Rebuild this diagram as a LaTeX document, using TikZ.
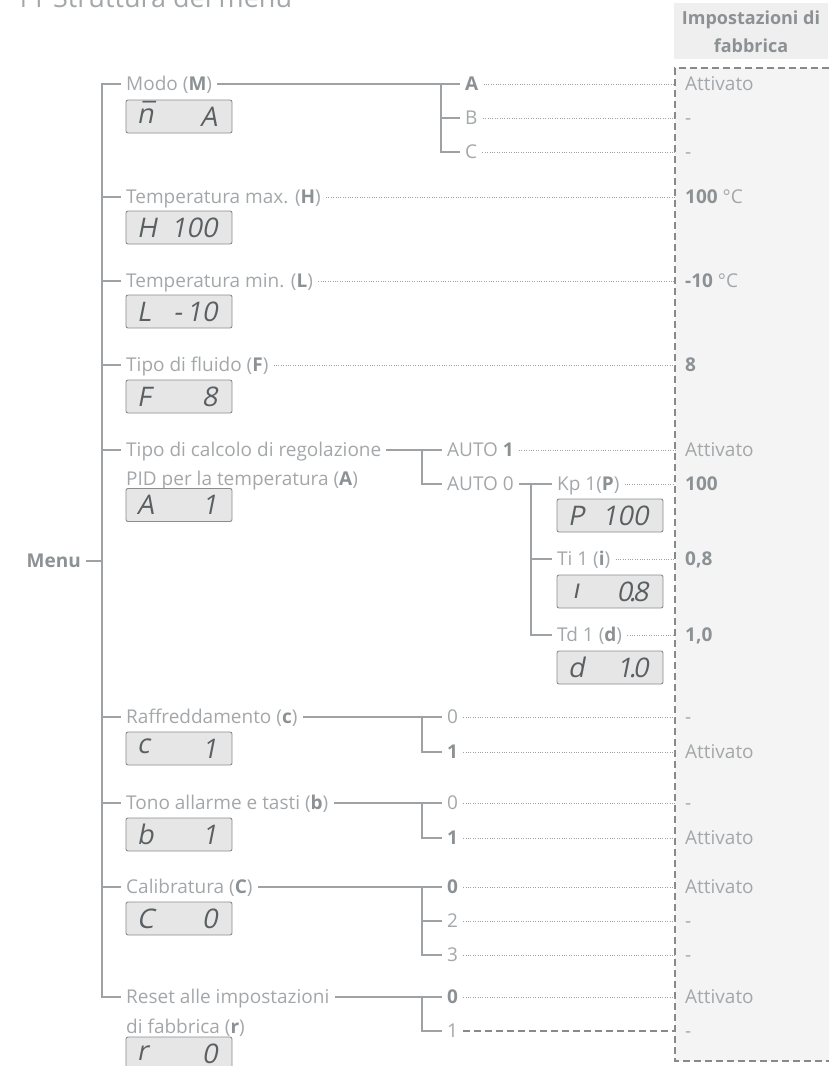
\documentclass[tikz,border=0pt]{standalone}
\usepackage{fontspec}
\setmainfont{Open Sans}
\newfontfamily\lcdfont{Open Sans}[FakeSlant=0.2]
\usepackage{tikz}
\usetikzlibrary{positioning,calc}
\definecolor{lnc}{HTML}{9EA2A4}
\definecolor{txc}{HTML}{A4A7A9}
\definecolor{bdc}{HTML}{8C9194}
\definecolor{facc}{HTML}{F4F4F4}
\definecolor{hdc}{HTML}{EFEFEF}
\definecolor{lcdf}{HTML}{E6E6E6}
\definecolor{lcdt}{HTML}{5A5F62}
\newcommand{\hl}[1]{\textcolor{bdc}{\textbf{#1}}}
\newcommand{\lcd}[5]{% name, x, y, left, right
  \node[lcd] (#1) at (#2,#3) {};
  \node[lcdc, anchor=west] at ([xshift=11pt]#1.west) {#4};
  \node[lcdc, anchor=east] at ([xshift=-15pt]#1.east) {#5};}

\begin{document}
\begin{tikzpicture}[
  x=1pt, y=-1pt,
  font=\fontsize{19}{22}\selectfont, text=txc,
  lbl/.style ={anchor=west, inner xsep=5pt, inner ysep=0pt, text height=14pt, text depth=1pt},
  val/.style ={lbl, inner xsep=10pt},
  ln/.style  ={draw=lnc, line width=1.2pt},
  dts/.style ={draw=lnc, line width=1pt, dash pattern=on 1pt off 1.4pt},
  dsh/.style ={draw=lnc!85!black, line width=2.4pt, dash pattern=on 7pt off 4pt},
  lcd/.style ={draw=black!45, fill=lcdf, rounded corners=2pt, line width=0.9pt,
               minimum width=106pt, minimum height=33pt, inner sep=0pt},
  lcdc/.style={font=\lcdfont\fontsize{27}{27}\selectfont, text=lcdt, inner sep=0pt}
]
\useasboundingbox (0,0) rectangle (828,1066);

% ---------- title and factory column ----------
\node[anchor=base west, inner sep=0pt, font=\fontsize{27}{27}\selectfont] (ttl) at (15,7)
  {11 Struttura del menu};
\fill[hdc] (674,3) rectangle (828,59);
\node[align=center, font=\fontsize{18}{28}\selectfont] (hdr) at (751,32)
  {\hl{Impostazioni di}\\\hl{fabbrica}};
\fill[facc] (675,68) rectangle (840,1061);
\draw[dsh] (840,68) -- (675,68) -- (675,1061) -- (840,1061);

% ---------- menu items ----------
\node[lbl, anchor=east] (menu) at (86,561) {\hl{Menu}};
\coordinate (jt) at (102,561);
\node[lbl] (modo)   at (121,84)   {Modo (\hl{M})};
\node[lbl] (tmax)   at (121,197)  {Temperatura max. (\hl{H})};
\node[lbl] (tmin)   at (121,281)  {Temperatura min. (\hl{L})};
\node[lbl] (fluid)  at (121,365)  {Tipo di fluido (\hl{F})};
\node[lbl] (pid)    at (121,450)  {Tipo di calcolo di regolazione};
\node[lbl] (pidb)   at (121,479)  {PID per la temperatura (\hl{A})};
\node[lbl] (raff)   at (121,717)  {Raffreddamento (\hl{c})};
\node[lbl] (tono)   at (121,803)  {Tono allarme e tasti (\hl{b})};
\node[lbl] (cal)    at (121,887)  {Calibratura (\hl{C})};
\node[lbl] (reset)  at (121,997)  {Reset alle impostazioni};
\node[lbl] (resetb) at (121,1027) {di fabbrica (\hl{r})};

\draw[ln] (menu) -- (jt);
\foreach \n in {modo,tmax,tmin,fluid,pid,raff,tono,cal,reset}
  \draw[ln] (jt) |- (\n.west);

% displays
\lcd{lM}{179}{116.5}{\ooalign{n\cr\hidewidth¯\hidewidth}}{A}
\lcd{lH}{179}{227.5}{H}{100}
\lcd{lL}{179}{311.5}{L}{-\,10}
\lcd{lF}{179}{396.5}{F}{8}
\lcd{lA}{179}{505}{A}{1}
\lcd{lc}{179}{748.5}{\raisebox{5pt}{c}}{1}
\lcd{lb}{179}{834.5}{b}{1}
\lcd{lC}{179}{918.5}{C}{0}
\lcd{lr}{179}{1053.5}{r}{0}

% ---------- sub menus ----------
\node[lbl] (mA) at (460,84)  {\hl{A}};
\node[lbl] (mB) at (460,118) {B};
\node[lbl] (mC) at (460,152) {C};
\coordinate (jm) at (441,84);
\draw[ln] (modo) -- (mA);
\draw[ln] (jm) |- (mB.west);
\draw[ln] (jm) |- (mC.west);

\node[lbl] (au1) at (442,450) {AUTO \hl{1}};
\node[lbl] (au0) at (442,484) {AUTO 0};
\coordinate (jp) at (422,450);
\draw[ln] (pid) -- (au1);
\draw[ln] (jp) |- (au0.west);

\node[lbl] (kp) at (552,484) {Kp 1(\hl{P})};
\node[lbl] (ti) at (552,559) {Ti 1 (\hl{i})};
\node[lbl] (td) at (552,635) {Td 1 (\hl{d})};
\coordinate (ja) at (531,484);
\draw[ln] (au0) -- (kp);
\draw[ln] (ja) |- (ti.west);
\draw[ln] (ja) |- (td.west);
\lcd{lP}{610}{515.5}{P}{100}
\lcd{li}{610}{591.5}{\,\raisebox{-3pt}{ı}}{0{\kern-.12em}.{\kern-.12em}8}
\lcd{ld}{610}{667.5}{d}{1{\kern-.12em}.{\kern-.12em}0}

\node[lbl] (c0) at (442,717) {0};
\node[lbl] (c1) at (442,752) {\hl{1}};
\coordinate (jc) at (422,717);
\draw[ln] (raff) -- (c0);
\draw[ln] (jc) |- (c1.west);

\node[lbl] (b0) at (442,803) {0};
\node[lbl] (b1) at (442,838) {\hl{1}};
\coordinate (jb) at (422,803);
\draw[ln] (tono) -- (b0);
\draw[ln] (jb) |- (b1.west);

\node[lbl] (k0) at (442,887) {\hl{0}};
\node[lbl] (k2) at (442,921) {2};
\node[lbl] (k3) at (442,955) {3};
\coordinate (jk) at (422,887);
\draw[ln] (cal) -- (k0);
\draw[ln] (jk) |- (k2.west);
\draw[ln] (jk) |- (k3.west);

\node[lbl] (r0) at (442,997)  {\hl{0}};
\node[lbl] (r1) at (442,1031) {1};
\coordinate (jr) at (422,997);
\draw[ln] (reset) -- (r0);
\draw[ln] (jr) |- (r1.west);

% ---------- factory values ----------
\node[val] (vA)  at (675,84)   {Attivato};
\node[val] (vB)  at (675,118)  {-};
\node[val] (vC)  at (675,152)  {-};
\node[val] (vH)  at (675,197)  {\hl{100} °C};
\node[val] (vL)  at (675,281)  {\hl{-10} °C};
\node[val] (vF)  at (675,365)  {\hl{8}};
\node[val] (va1) at (675,450)  {Attivato};
\node[val] (vkp) at (675,484)  {\hl{100}};
\node[val] (vti) at (675,559)  {\hl{0,8}};
\node[val] (vtd) at (675,635)  {\hl{1,0}};
\node[val] (vc0) at (675,717)  {-};
\node[val] (vc1) at (675,752)  {Attivato};
\node[val] (vb0) at (675,803)  {-};
\node[val] (vb1) at (675,838)  {Attivato};
\node[val] (vk0) at (675,887)  {Attivato};
\node[val] (vk2) at (675,921)  {-};
\node[val] (vk3) at (675,955)  {-};
\node[val] (vr0) at (675,997)  {Attivato};
\node[val] (vr1) at (675,1031) {-};

\foreach \a/\b in {mA/vA, mB/vB, mC/vC, tmax/vH, tmin/vL, fluid/vF, au1/va1,
                   kp/vkp, ti/vti, td/vtd, c0/vc0, c1/vc1, b0/vb0, b1/vb1,
                   k0/vk0, k2/vk2, k3/vk3, r0/vr0}
  \draw[dts] (\a) -- (\b);
\draw[dsh] (r1) -- (vr1);
\end{tikzpicture}
\end{document}
